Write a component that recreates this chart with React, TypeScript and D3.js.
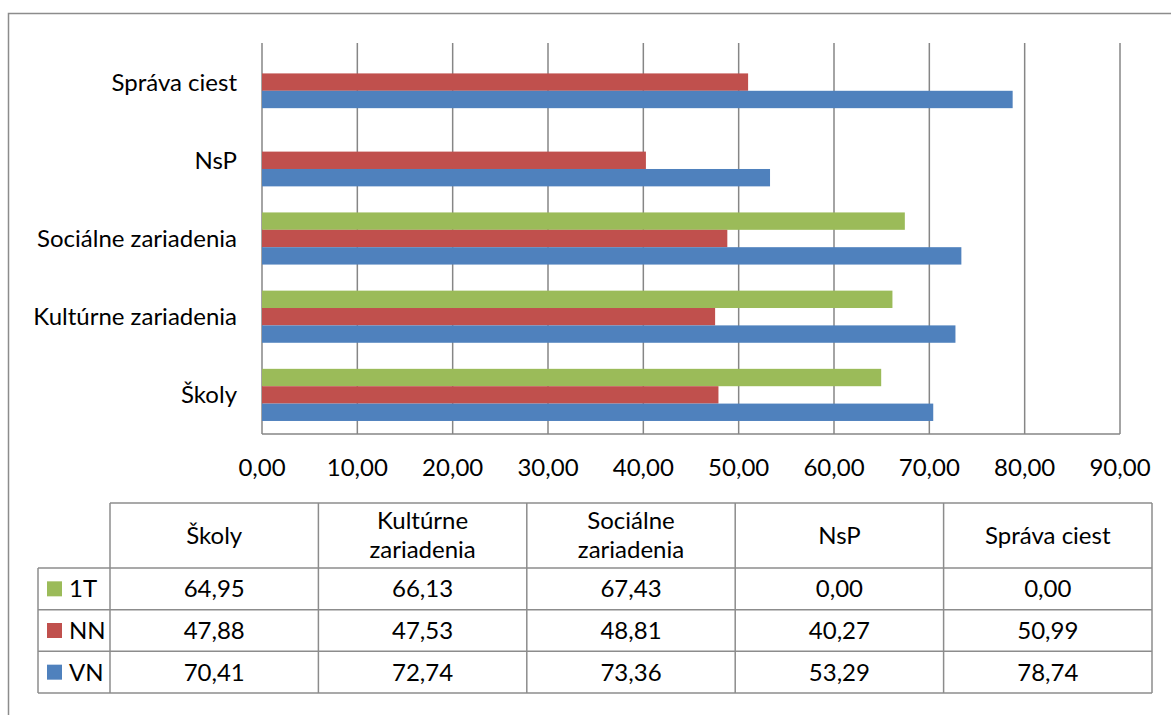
import React from "react";
import { scaleBand, scaleLinear } from "d3";

// categories bottom-to-top as in the chart
const categories = ["Školy", "Kultúrne zariadenia", "Sociálne zariadenia", "NsP", "Správa ciest"];
const headerLines = [["Školy"], ["Kultúrne", "zariadenia"], ["Sociálne", "zariadenia"], ["NsP"], ["Správa ciest"]];
const seriesNames = ["1T", "NN", "VN"];
const colors = ["#9BBB59", "#C0504D", "#4F81BD"];
const values1T = [64.95, 66.13, 67.43, 0.0, 0.0];
const valuesNN = [47.88, 47.53, 48.81, 40.27, 50.99];
const valuesVN = [70.41, 72.74, 73.36, 53.29, 78.74];
const ticks = [0, 10, 20, 30, 40, 50, 60, 70, 80, 90];

const W = 1171;
const H = 715;
const FONT = "Lato, 'Open Sans', sans-serif";
const FS = 24;
const GRID = "#868686";

const fmt = (v: number) => v.toFixed(2).replace(".", ",");

export default function App() {
	const series = [values1T, valuesNN, valuesVN];
	const plot = { left: 262, right: 1120, top: 43, bottom: 434 };

	const x = scaleLinear().domain([0, 90]).range([plot.left, plot.right]);
	const y = scaleBand()
		.domain(categories.slice().reverse())
		.range([plot.top, plot.bottom]);
	const bh = y.bandwidth() / 4.5;
	const inner = scaleBand()
		.domain(seriesNames)
		.range([0, bh * 3]);

	// data table
	const tbl = { left: 110, right: 1152, top: 503, headBottom: 568, bottom: 693, legLeft: 38 };
	const colX = scaleBand()
		.domain(categories)
		.range([tbl.left, tbl.right]);
	const rowY = scaleBand()
		.domain(seriesNames)
		.range([tbl.headBottom, tbl.bottom]);

	return (
		<div style={{ position: "absolute", left: 0, top: 0 }}>
			<svg width={W} height={H} style={{ display: "block", fontFamily: FONT }}>
				<rect width={W} height={H} fill="#fff" />
				<rect x={8.5} y={13.5} width={W + 20} height={H + 20} fill="none" stroke="#8c8c8c" strokeWidth={1.5} />

				{/* gridlines */}
				{ticks.map((t) => (
					<line key={t} x1={x(t)} x2={x(t)} y1={plot.top} y2={plot.bottom} stroke={GRID} strokeWidth={1.5} />
				))}
				<line x1={plot.left} x2={plot.right} y1={plot.bottom} y2={plot.bottom} stroke={GRID} strokeWidth={1.5} />

				{/* bars */}
				{categories.map((c, ci) => {
					const y0 = (y(c) || 0) + (y.bandwidth() - bh * 3) / 2;
					return (
						<g key={c}>
							{series.map((vals, si) =>
								vals[ci] > 0 ? (
									<rect
										key={si}
										x={x(0)}
										y={y0 + (inner(seriesNames[si]) || 0)}
										width={x(vals[ci]) - x(0)}
										height={inner.bandwidth()}
										fill={colors[si]}
									/>
								) : null,
							)}
							<text
								x={237}
								y={(y(c) || 0) + y.bandwidth() / 2}
								dy="0.35em"
								textAnchor="end"
								fontSize={FS}
								fill="#000">
								{c}
							</text>
						</g>
					);
				})}

				{/* x tick labels */}
				{ticks.map((t) => (
					<text key={t} x={x(t)} y={468} dy="0.35em" textAnchor="middle" fontSize={FS} fill="#000">
						{fmt(t)}
					</text>
				))}

				{/* data table */}
				<g stroke="#8c8c8c" strokeWidth={1.5} fill="none">
					<line x1={tbl.left} x2={tbl.right} y1={tbl.top} y2={tbl.top} />
					<line x1={tbl.legLeft} x2={tbl.right} y1={tbl.bottom} y2={tbl.bottom} />
					{seriesNames.map((s) => (
						<line key={s} x1={tbl.legLeft} x2={tbl.right} y1={rowY(s)} y2={rowY(s)} />
					))}
					<line x1={tbl.legLeft} x2={tbl.legLeft} y1={tbl.headBottom} y2={tbl.bottom} />
					{categories.map((c) => (
						<line key={c} x1={colX(c)} x2={colX(c)} y1={tbl.top} y2={tbl.bottom} />
					))}
					<line x1={tbl.right} x2={tbl.right} y1={tbl.top} y2={tbl.bottom} />
				</g>
				{categories.map((c, ci) => {
					const cx = (colX(c) || 0) + colX.bandwidth() / 2;
					const lines = headerLines[ci];
					const cy = (tbl.top + tbl.headBottom) / 2;
					return (
						<g key={c}>
							{lines.map((l, li) => (
								<text
									key={li}
									x={cx}
									y={cy + (li - (lines.length - 1) / 2) * 29}
									dy="0.35em"
									textAnchor="middle"
									fontSize={FS}
									fill="#000">
									{l}
								</text>
							))}
							{series.map((vals, si) => (
								<text
									key={si}
									x={cx}
									y={(rowY(seriesNames[si]) || 0) + rowY.bandwidth() / 2}
									dy="0.35em"
									textAnchor="middle"
									fontSize={FS}
									fill="#000">
									{fmt(vals[ci])}
								</text>
							))}
						</g>
					);
				})}
				{seriesNames.map((s, si) => {
					const cy = (rowY(s) || 0) + rowY.bandwidth() / 2;
					return (
						<g key={s}>
							<rect x={47} y={cy - 7.5} width={15} height={15} fill={colors[si]} />
							<text x={69} y={cy} dy="0.35em" fontSize={FS} fill="#000">
								{s}
							</text>
						</g>
					);
				})}
			</svg>
		</div>
	);
}
